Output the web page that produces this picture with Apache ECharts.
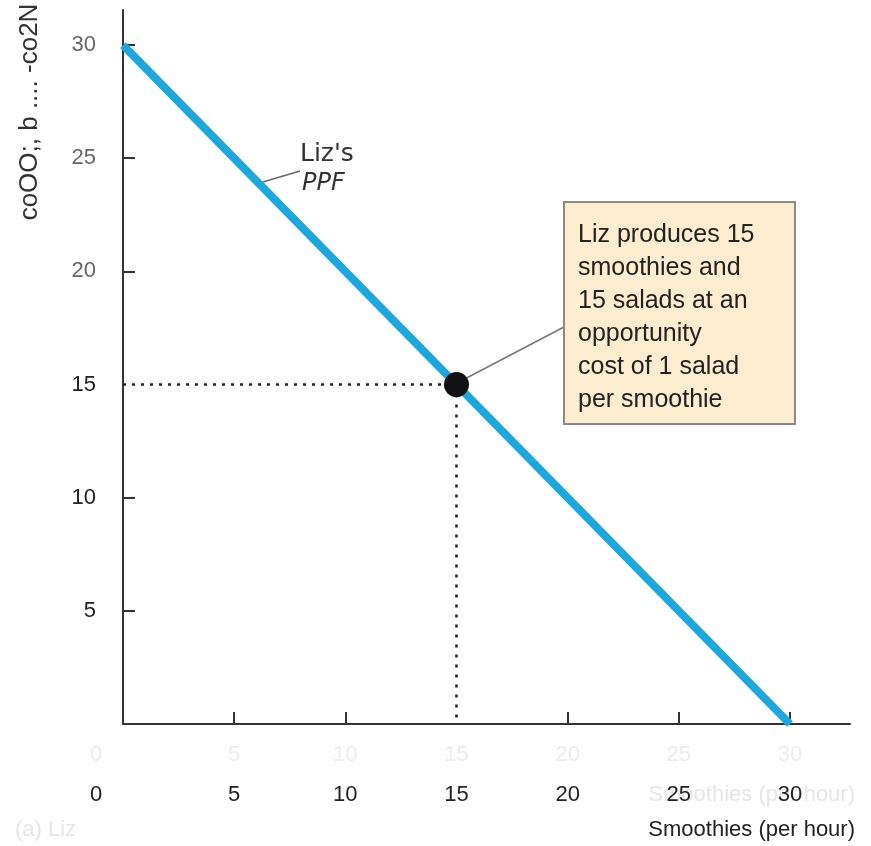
<!DOCTYPE html>
<html>
<head>
<meta charset="utf-8">
<script src="https://cdn.jsdelivr.net/npm/echarts@6/dist/echarts.min.js"></script>
<style>
  html, body { margin: 0; padding: 0; background: #fff; }
  #chart { width: 871px; height: 846px; }
</style>
</head>
<body>
<div id="chart"></div>
<script>
// Liz's production possibilities frontier
const ppfPoints = [[0, 30], [30, 0]];
const chosenPoint = [[15, 15]];
const guideH = [[0, 15], [15, 15]];
const guideV = [[15, 15], [15, 0]];
const xTicks = [5, 10, 20, 25, 30];
const xLabels = [5, 10, 15, 20, 25, 30];
const yTicks = [5, 10, 20, 25, 30];
const yLabels = [5, 10, 15, 20, 25, 30];
const boxLines = [
    'Liz produces 15',
    'smoothies and',
    '15 salads at an',
    'opportunity',
    'cost of 1 salad',
    'per smoothie'
];

const FONT = "'Liberation Sans', Arial, sans-serif";
let chart = echarts.init(document.getElementById('chart'));

let option = {
    animation: false,
    backgroundColor: '#fff',
    grid: {left: 123, top: 10, right: 21, bottom: 122},
    xAxis: [{
        type: 'value',
        min: 0,
        max: 32.7,
        interval: 5,
        splitLine: {show: false},
        axisLine: {lineStyle: {color: '#333', width: 2}},
        axisTick: {inside: true, length: 12, customValues: xTicks, lineStyle: {color: '#333', width: 2}},
        axisLabel: {
            customValues: xLabels,
            margin: 60,
            fontFamily: FONT,
            fontSize: 22,
            color: '#222'
        }
    }, {
        // faint ghost row of labels
        type: 'value',
        position: 'bottom',
        min: 0,
        max: 32.7,
        interval: 5,
        splitLine: {show: false},
        axisLine: {show: false},
        axisTick: {show: false},
        axisLabel: {customValues: xLabels, margin: 20, fontFamily: FONT, fontSize: 22, color: '#ececec'}
    }],
    yAxis: {
        type: 'value',
        min: 0,
        max: 31.55,
        interval: 5,
        splitLine: {show: false},
        axisLine: {lineStyle: {color: '#333', width: 2}},
        axisTick: {inside: true, length: 12, customValues: yTicks, lineStyle: {color: '#333', width: 2}},
        axisLabel: {
            customValues: yLabels,
            margin: 27,
            fontFamily: FONT,
            fontSize: 22,
            color: function (v) {
                return v > 15 ? '#666' : '#222';
            }
        }
    },
    series: [
        {
            type: 'line',
            data: guideH,
            symbol: 'none',
            lineStyle: {color: '#222', width: 2.5, type: [3, 6]},
            z: 2
        },
        {
            type: 'line',
            data: guideV,
            symbol: 'none',
            lineStyle: {color: '#222', width: 2.5, type: [3, 7]},
            z: 2
        },
        {
            type: 'line',
            data: ppfPoints,
            symbol: 'none',
            lineStyle: {color: '#1ba7e0', width: 8},
            z: 3
        },
        {
            type: 'scatter',
            data: chosenPoint,
            symbolSize: 25,
            itemStyle: {color: '#111', opacity: 1},
            z: 5
        }
    ],
    graphic: [
        // garbled vertical axis title as in the picture
        {
            type: 'text', x: 30, y: 112, rotation: Math.PI / 2,
            style: {text: 'coOO;, b .... -co2N', fontFamily: FONT, fontSize: 26, fill: '#333',
                align: 'center', verticalAlign: 'middle'}
        },
        {
            type: 'text', x: 96, y: 795,
            style: {text: '0', fontFamily: FONT, fontSize: 22, fill: '#222', align: 'center', verticalAlign: 'middle'}
        },
        {
            type: 'text', x: 96, y: 755,
            style: {text: '0', fontFamily: FONT, fontSize: 22, fill: '#ececec', align: 'center', verticalAlign: 'middle'}
        },
        {
            type: 'text', x: 855, y: 795,
            style: {text: 'Smoothies (per hour)', fontFamily: FONT, fontSize: 22, fill: '#e6e6e6', align: 'right', verticalAlign: 'middle'}
        },
        {
            type: 'text', x: 855, y: 830,
            style: {text: 'Smoothies (per hour)', fontFamily: FONT, fontSize: 22, fill: '#222', align: 'right', verticalAlign: 'middle'}
        },
        {
            type: 'text', x: 15, y: 830,
            style: {text: '(a) Liz', fontFamily: FONT, fontSize: 22, fill: '#e6e6e6', verticalAlign: 'middle'}
        },
        // PPF label
        {
            type: 'line', shape: {x1: 263, y1: 182, x2: 300, y2: 171},
            style: {stroke: '#666', lineWidth: 1.5}
        },
        {
            type: 'text', x: 300, y: 154,
            style: {text: "Liz's", fontFamily: "'DejaVu Sans', sans-serif", fontSize: 25, fill: '#333', verticalAlign: 'middle'}
        },
        {
            type: 'text', x: 302, y: 184,
            style: {text: 'PPF', fontFamily: "'DejaVu Sans', sans-serif", fontStyle: 'italic', fontSize: 24, fill: '#333', verticalAlign: 'middle'}
        },
        // note box
        {
            type: 'line', shape: {x1: 457, y1: 383, x2: 564, y2: 327},
            style: {stroke: '#777', lineWidth: 1.5}
        },
        {
            type: 'rect', shape: {x: 564, y: 202, width: 231, height: 222},
            style: {fill: '#fdedcf', stroke: '#8a8a8a', lineWidth: 2}
        },
        {
            type: 'text', x: 578, y: 219,
            style: {text: boxLines.join('\n'), fontFamily: FONT, fontSize: 25, lineHeight: 33,
                fill: '#222', verticalAlign: 'top'}
        }
    ]
};

chart.setOption(option);
</script>
</body>
</html>
